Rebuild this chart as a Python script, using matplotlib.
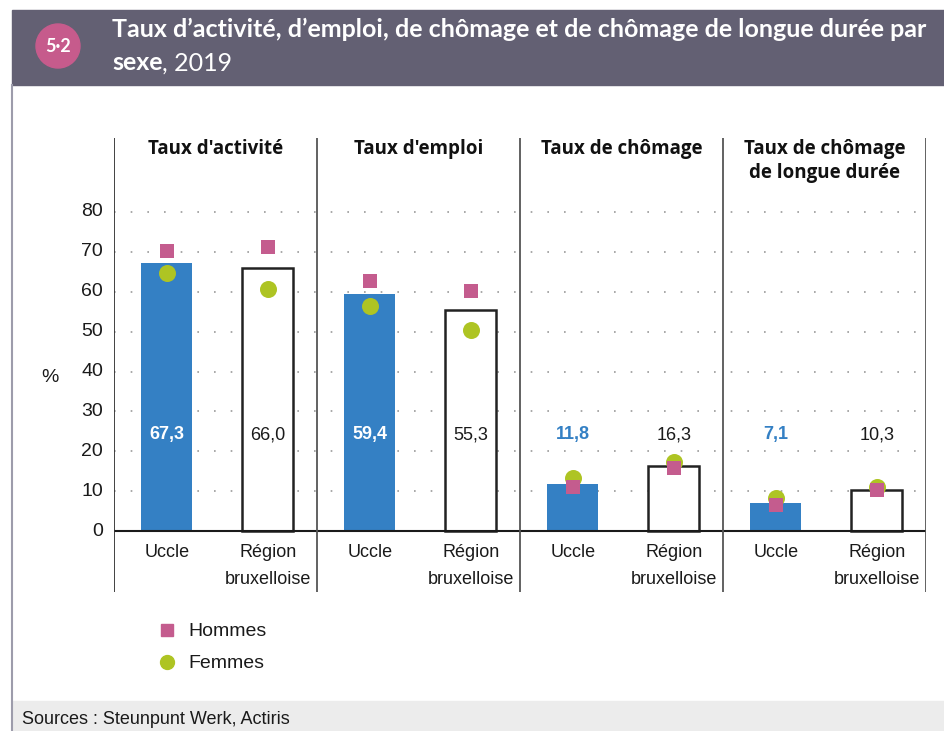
import matplotlib
matplotlib.use('Agg')
import matplotlib.pyplot as plt
from matplotlib.patches import Rectangle, Ellipse

# data
panels = ["Taux d'activité", "Taux d'emploi", "Taux de chômage", "Taux de chômage\nde longue durée"]
categories = ["Uccle", "Région\nbruxelloise"]
uccle = [67.3, 59.4, 11.8, 7.1]
region = [66.0, 55.3, 16.3, 10.3]
hommes_uccle = [70.2, 62.6, 11.0, 6.5]
hommes_region = [71.1, 60.2, 15.8, 10.3]
femmes_uccle = [64.7, 56.4, 13.3, 8.3]
femmes_region = [60.8, 50.5, 17.3, 11.0]
yticks = [0, 10, 20, 30, 40, 50, 60, 70, 80]

BLUE = '#3480c4'
PINK = '#c45c8e'
GREEN = '#aec423'
HEAD = '#636073'
TXT = ['Liberation Sans', 'DejaVu Sans']

W, H = 945, 731
fig = plt.figure(figsize=(W / 100, H / 100), dpi=100)

def fx(px):
    return px / W

def fy(py):
    return 1 - py / H

# header band, left border, footer
fig.patches.append(Rectangle((fx(12), fy(85)), fx(945 - 12), (85 - 10) / H,
                             transform=fig.transFigure, color=HEAD, zorder=0))
fig.patches.append(Rectangle((fx(12), 0), fx(945 - 12), 30 / H,
                             transform=fig.transFigure, color='#ececec', zorder=0))
fig.lines.append(plt.Line2D([fx(12), fx(12)], [0, fy(85)], transform=fig.transFigure,
                            color='#9d9cab', lw=1.5))
fig.patches.append(Ellipse((fx(58), fy(46)), 44 / W, 44 / H, transform=fig.transFigure,
                           color='#c65b8c', zorder=1))
fig.text(fx(58), fy(46), '5·2', color='white', fontsize=13, fontweight='bold',
         ha='center', va='center', family='Lato')
fig.text(fx(112), fy(29), 'Taux d’activité, d’emploi, de chômage et de chômage de longue durée par',
         color='white', fontsize=18, fontweight='bold', ha='left', va='center', family='Lato')
t2 = fig.text(fx(112), fy(63), 'sexe', color='white', fontsize=18, fontweight='bold',
              ha='left', va='center', family='Lato')
fig.canvas.draw()
bb = t2.get_window_extent()
fig.text(bb.x1 / W, fy(63), ', 2019', color='white', fontsize=18, ha='left', va='center', family='Lato')
fig.text(fx(22), fy(719), 'Sources : Steunpunt Werk, Actiris', fontsize=13, ha='left', va='center',
         family=TXT, color='#1a1a1a')

# main axes: 0 at y=531 px, 80 at y=212 px
scale = (531 - 212) / 80
ymin = -(592 - 531) / scale
ymax = (531 - 138) / scale
ax = fig.add_axes([fx(114), fy(592), fx(926 - 114), (592 - 138) / H])
ax.set_xlim(0, 4)
ax.set_ylim(ymin, ymax)
ax.axis('off')

def yv(py):
    return (531 - py) / scale

# dotted grid
for v in yticks[1:]:
    ax.hlines(v, 0, 4, colors='#9a9a9a', linestyles=(0, (1, 9)), lw=1.2, zorder=1)
ax.hlines(0, 0, 4, colors='#1a1a1a', lw=1.5, zorder=3)
# panel separators
for i in range(5):
    ax.vlines(i, ymin, ymax, colors='#333333' if i == 0 else '#555555', lw=1.3, zorder=3)

bw = 0.25
xu = 0.26
xr = 0.757
for i in range(4):
    ax.bar(i + xu, uccle[i], width=bw, color=BLUE, zorder=2)
    ax.bar(i + xr, region[i], width=bw, facecolor='white', edgecolor='#222222', lw=1.8, zorder=2)
    ax.scatter([i + xu, i + xr], [femmes_uccle[i], femmes_region[i]], marker='o', s=150,
               color=GREEN, zorder=4, linewidths=0)
    ax.scatter([i + xu, i + xr], [hommes_uccle[i], hommes_region[i]], marker='s', s=110,
               color=PINK, zorder=5, linewidths=0)
    lab_u = f'{uccle[i]:.1f}'.replace('.', ',')
    lab_r = f'{region[i]:.1f}'.replace('.', ',')
    ax.text(i + xu, yv(435), lab_u, ha='center', va='center', fontsize=13, fontweight='bold',
            color='white' if i < 2 else BLUE, family=TXT, zorder=6)
    ax.text(i + xr, yv(435), lab_r, ha='center', va='center', fontsize=13,
            color='#1a1a1a', family=TXT, zorder=6)
    ax.text(i + 0.5, yv(139), panels[i], ha='center', va='top', fontsize=13.5, fontweight='bold',
            color='#111111', family='Open Sans', linespacing=1.25)
    ax.text(i + xu, yv(544), categories[0], ha='center', va='top', fontsize=13,
            color='#1a1a1a', family=TXT)
    ax.text(i + xr, yv(544), categories[1], ha='center', va='top', fontsize=13,
            color='#1a1a1a', family=TXT, linespacing=1.75)

for v in yticks:
    ax.text(-(114 - 103) / 203, v, str(v), ha='right', va='center', fontsize=14,
            color='#1a1a1a', family=TXT)
ax.text(-(114 - 50) / 203, yv(378), '%', ha='center', va='center', fontsize=14,
        color='#1a1a1a', family=TXT)

# legend
fig.lines.append(plt.Line2D([fx(167)], [fy(630)], marker='s', ms=8, color=PINK, ls='none',
                            transform=fig.transFigure))
fig.lines.append(plt.Line2D([fx(167)], [fy(662)], marker='o', ms=10, color=GREEN, ls='none',
                            transform=fig.transFigure))
fig.text(fx(188), fy(631), 'Hommes', fontsize=14, ha='left', va='center', family=TXT, color='#1a1a1a')
fig.text(fx(188), fy(663), 'Femmes', fontsize=14, ha='left', va='center', family=TXT, color='#1a1a1a')

fig.savefig('out.png', dpi=100)
